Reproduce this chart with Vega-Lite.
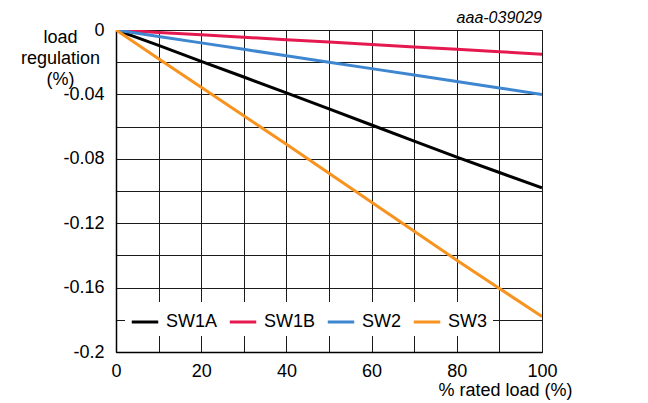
{
  "$schema": "https://vega.github.io/schema/vega-lite/v6.json",
  "width": 426,
  "height": 322,
  "autosize": "none",
  "padding": {"left": 116, "top": 30, "right": 106, "bottom": 51},
  "background": "white",
  "config": {
    "font": "Liberation Sans",
    "view": {"stroke": "#1a1a1a", "strokeWidth": 1},
    "axis": {"labelFont": "Liberation Sans", "titleFont": "Liberation Sans", "labelColor": "#000", "titleColor": "#000", "labelFontSize": 18, "titleFontSize": 18, "titleFontWeight": "normal", "gridColor": "#1a1a1a", "gridOpacity": 1, "gridWidth": 1, "domainColor": "#000", "domainWidth": 1.5, "ticks": false, "labelOverlap": false, "labelFlush": false}
  },
  "encoding": {
    "x": {
      "field": "load", "type": "quantitative",
      "scale": {"domain": [0, 100], "nice": false, "zero": false},
      "axis": {
        "values": [0, 10, 20, 30, 40, 50, 60, 70, 80, 90, 100],
        "labelExpr": "datum.value % 20 == 0 ? datum.label : ''",
        "labelPadding": 10,
        "title": "% rated load (%)",
        "titleAnchor": "end",
        "titleAlign": "right",
        "titleX": 456,
        "titleY": 43,
        "titleBaseline": "alphabetic"
      }
    },
    "y": {
      "field": "reg", "type": "quantitative",
      "scale": {"domain": [-0.2, 0], "nice": false, "zero": false},
      "axis": {
        "values": [0, -0.02, -0.04, -0.06, -0.08, -0.1, -0.12, -0.14, -0.16, -0.18, -0.2],
        "labelExpr": "abs(round(datum.value * 100)) % 4 == 0 ? replace(format(datum.value, '.2~f'), '−', '-') : ''",
        "labelPadding": 12,
        "title": ["load", "regulation", "(%)"],
        "titleAngle": 0,
        "titleAlign": "center",
        "titleBaseline": "alphabetic",
        "titleX": -56,
        "titleY": 12,
        "titleLineHeight": 21
      }
    }
  },
  "layer": [
    {
      "data": {"values": [
        {"load": 0, "reg": 0, "series": "SW1A"},
        {"load": 10, "reg": -0.0095, "series": "SW1A"},
        {"load": 20, "reg": -0.0195, "series": "SW1A"},
        {"load": 30, "reg": -0.0292, "series": "SW1A"},
        {"load": 40, "reg": -0.039, "series": "SW1A"},
        {"load": 50, "reg": -0.049, "series": "SW1A"},
        {"load": 60, "reg": -0.059, "series": "SW1A"},
        {"load": 70, "reg": -0.069, "series": "SW1A"},
        {"load": 80, "reg": -0.079, "series": "SW1A"},
        {"load": 90, "reg": -0.0885, "series": "SW1A"},
        {"load": 100, "reg": -0.098, "series": "SW1A"},
        {"load": 0, "reg": 0, "series": "SW1B"},
        {"load": 10, "reg": -0.0015, "series": "SW1B"},
        {"load": 20, "reg": -0.003, "series": "SW1B"},
        {"load": 30, "reg": -0.0045, "series": "SW1B"},
        {"load": 40, "reg": -0.006, "series": "SW1B"},
        {"load": 50, "reg": -0.0075, "series": "SW1B"},
        {"load": 60, "reg": -0.009, "series": "SW1B"},
        {"load": 70, "reg": -0.0105, "series": "SW1B"},
        {"load": 80, "reg": -0.012, "series": "SW1B"},
        {"load": 90, "reg": -0.0135, "series": "SW1B"},
        {"load": 100, "reg": -0.015, "series": "SW1B"},
        {"load": 0, "reg": 0, "series": "SW2"},
        {"load": 10, "reg": -0.004, "series": "SW2"},
        {"load": 20, "reg": -0.008, "series": "SW2"},
        {"load": 30, "reg": -0.012, "series": "SW2"},
        {"load": 40, "reg": -0.016, "series": "SW2"},
        {"load": 50, "reg": -0.02, "series": "SW2"},
        {"load": 60, "reg": -0.024, "series": "SW2"},
        {"load": 70, "reg": -0.028, "series": "SW2"},
        {"load": 80, "reg": -0.032, "series": "SW2"},
        {"load": 90, "reg": -0.036, "series": "SW2"},
        {"load": 100, "reg": -0.04, "series": "SW2"},
        {"load": 0, "reg": 0, "series": "SW3"},
        {"load": 10, "reg": -0.0178, "series": "SW3"},
        {"load": 20, "reg": -0.0355, "series": "SW3"},
        {"load": 30, "reg": -0.0533, "series": "SW3"},
        {"load": 40, "reg": -0.071, "series": "SW3"},
        {"load": 50, "reg": -0.089, "series": "SW3"},
        {"load": 60, "reg": -0.107, "series": "SW3"},
        {"load": 70, "reg": -0.125, "series": "SW3"},
        {"load": 80, "reg": -0.143, "series": "SW3"},
        {"load": 90, "reg": -0.1605, "series": "SW3"},
        {"load": 100, "reg": -0.178, "series": "SW3"}
      ]},
      "mark": {"type": "line", "strokeWidth": 3, "clip": true},
      "encoding": {
        "color": {
          "field": "series", "type": "nominal",
          "scale": {"domain": ["SW1A", "SW1B", "SW2", "SW3"], "range": ["#000000", "#e5194f", "#3f86d0", "#f7931e"]},
          "legend": {
            "title": null,
            "orient": "none",
            "direction": "horizontal",
            "legendX": 9,
            "legendY": 272,
            "fillColor": "white",
            "padding": 5,
            "symbolType": "stroke",
            "symbolSize": 700,
            "symbolStrokeWidth": 3,
            "labelFontSize": 18,
            "labelFont": "Liberation Sans",
            "labelColor": "#000",
            "columnPadding": 5,
            "labelOffset": 6
          }
        }
      }
    },
    {
      "data": {"values": [{"load": 100, "reg": 0, "label": "aaa-039029"}]},
      "mark": {"type": "text", "align": "right", "baseline": "alphabetic", "dy": -7, "fontStyle": "italic", "fontSize": 16, "font": "Liberation Sans", "color": "#000"},
      "encoding": {
        "text": {"field": "label"}
      }
    }
  ]
}
